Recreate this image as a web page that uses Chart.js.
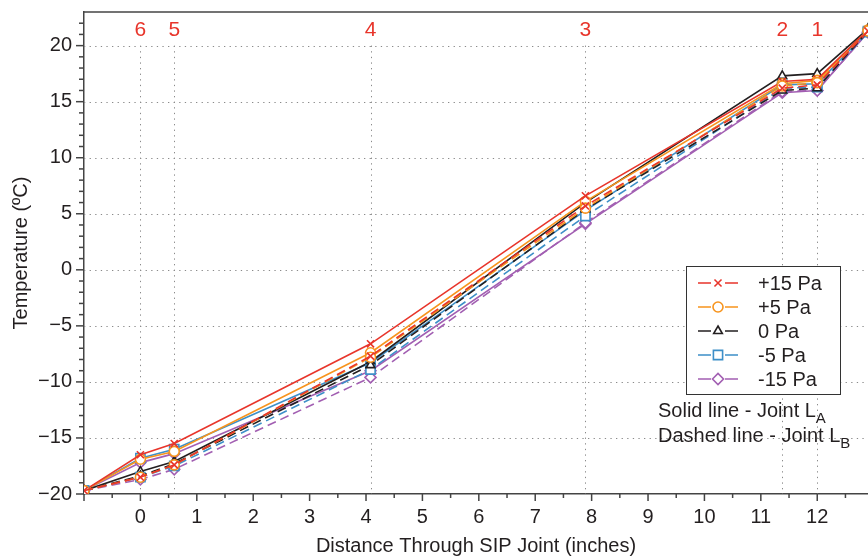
<!DOCTYPE html>
<html>
<head>
<meta charset="utf-8">
<script src="https://cdn.jsdelivr.net/npm/chart.js@4.4.1/dist/chart.umd.min.js"></script>
<style>
  html, body { margin: 0; padding: 0; background: #fff; }
  #wrap { width: 868px; height: 558px; }
</style>
</head>
<body>
<div id="wrap"><canvas id="tempChart" width="868" height="558"></canvas></div>
<script>
// 측정 위치 (inches) - 첫 점과 마지막 점은 표면
const xPos = [-1, 0, 0.6, 4.08, 7.89, 11.38, 12, 12.9];
const locX = [0, 0.6, 4.08, 7.89, 11.38, 12];
const locLabels = ['6', '5', '4', '3', '2', '1'];

const seriesNames = ['+15 Pa', '+5 Pa', '0 Pa', '-5 Pa', '-15 Pa'];
const seriesColors = ['#e8352b', '#f7941d', '#231f20', '#3d8fc8', '#a25fb2'];
const seriesMarkers = ['crossRot', 'circle', 'triangle', 'rect', 'rectRot'];
const markerRadius = [5, 5, 5, 6.5, 5.5];

// Joint LA (solid)
const jointA_p15 = [-19.7, -16.5, -15.5, -6.6, 6.6, 16.8, 17.0, 21.4];
const jointA_p5 = [-19.7, -16.9, -16.2, -7.4, 6.1, 16.6, 16.9, 21.4];
const jointA_0 = [-19.7, -18.0, -17.1, -8.2, 6.0, 17.3, 17.5, 21.5];
const jointA_m5 = [-19.7, -16.8, -16.0, -8.3, 5.3, 16.5, 16.6, 21.3];
const jointA_m15 = [-19.7, -17.2, -16.4, -9.0, 4.1, 15.8, 16.0, 21.2];

// Joint LB (dashed)
const jointB_p15 = [-19.7, -18.5, -17.4, -7.7, 5.7, 16.2, 16.5, 21.3];
const jointB_p5 = [-19.7, -18.5, -17.4, -7.8, 5.5, 16.4, 16.7, 21.3];
const jointB_0 = [-19.7, -18.4, -17.3, -8.5, 5.4, 16.0, 16.2, 21.3];
const jointB_m5 = [-19.7, -18.5, -17.5, -8.9, 4.8, 16.2, 16.3, 21.2];
const jointB_m15 = [-19.7, -18.7, -17.8, -9.6, 4.2, 15.9, 16.0, 21.2];

const jointA = [jointA_p15, jointA_p5, jointA_0, jointA_m5, jointA_m15];
const jointB = [jointB_p15, jointB_p5, jointB_0, jointB_m5, jointB_m15];

const FONT = '"Liberation Sans", Arial, Helvetica, sans-serif';
const INK = '#231f20';

function makeDataset(values, i, dashed) {
    return {
        label: seriesNames[i] + (dashed ? ' LB' : ' LA'),
        data: values.map((v, k) => ({ x: xPos[k], y: v })),
        borderColor: seriesColors[i],
        backgroundColor: '#fff',
        borderWidth: 1.6,
        borderDash: dashed ? [9, 5] : [],
        pointStyle: seriesMarkers[i],
        pointRadius: markerRadius[i],
        pointBorderWidth: 1.6,
        pointBackgroundColor: '#fff',
        pointBorderColor: seriesColors[i],
        tension: 0
    };
}

const datasets = [];
jointB.forEach((vals, i) => datasets.push(makeDataset(vals, i, true)));
jointA.forEach((vals, i) => datasets.push(makeDataset(vals, i, false)));

// 그리드, 눈금, 위치 번호, 범례 그리기
const decorPlugin = {
    id: 'decor',
    beforeDatasetsDraw(chart) {
        const { ctx, chartArea: a, scales: { x, y } } = chart;
        ctx.save();
        ctx.strokeStyle = '#8a8a8a';
        ctx.lineWidth = 1;
        ctx.setLineDash([1.3, 4.3]);
        for (let v = -15; v <= 20; v += 5) {
            const py = Math.round(y.getPixelForValue(v)) + 0.5;
            ctx.beginPath();
            ctx.moveTo(a.left, py);
            ctx.lineTo(a.right, py);
            ctx.stroke();
        }
        locX.forEach(v => {
            const px = Math.round(x.getPixelForValue(v)) + 0.5;
            ctx.beginPath();
            ctx.moveTo(px, y.getPixelForValue(20));
            ctx.lineTo(px, a.bottom);
            ctx.stroke();
        });
        ctx.restore();
    },
    afterDraw(chart) {
        const { ctx, chartArea: a, scales: { x, y } } = chart;
        ctx.save();
        // 위쪽 테두리
        ctx.strokeStyle = '#444';
        ctx.lineWidth = 1.5;
        ctx.beginPath();
        ctx.moveTo(a.left, a.top);
        ctx.lineTo(a.right, a.top);
        ctx.stroke();

        // 눈금
        for (let v = -20; v <= 22; v++) {
            const py = y.getPixelForValue(v);
            const len = v % 5 === 0 ? 8 : 5;
            ctx.beginPath();
            ctx.moveTo(a.left - len, py);
            ctx.lineTo(a.left, py);
            ctx.stroke();
        }
        for (let v = -1; v <= 12.5; v += 0.5) {
            const px = x.getPixelForValue(v);
            const len = Number.isInteger(v) ? 7 : 4;
            ctx.beginPath();
            ctx.moveTo(px, a.bottom);
            ctx.lineTo(px, a.bottom + len);
            ctx.stroke();
        }

        // 위치 번호 (빨간색)
        ctx.fillStyle = '#e8352b';
        ctx.font = '21px ' + FONT;
        ctx.textAlign = 'center';
        ctx.textBaseline = 'middle';
        locX.forEach((v, i) => {
            ctx.fillText(locLabels[i], x.getPixelForValue(v), 30);
        });

        // 범례 박스
        const bx = 686, by = 266, bw = 154, bh = 128;
        ctx.fillStyle = '#fff';
        ctx.fillRect(bx, by, bw, bh);
        ctx.strokeStyle = '#333';
        ctx.lineWidth = 1;
        ctx.strokeRect(bx + 0.5, by + 0.5, bw, bh);
        seriesNames.forEach((name, i) => {
            const ry = by + 17 + i * 24;
            ctx.strokeStyle = seriesColors[i];
            ctx.lineWidth = 1.6;
            ctx.beginPath();
            ctx.moveTo(698, ry); ctx.lineTo(711, ry);
            ctx.moveTo(725, ry); ctx.lineTo(738, ry);
            ctx.stroke();
            ctx.fillStyle = '#fff';
            Chart.helpers.drawPoint(ctx, {
                pointStyle: seriesMarkers[i], radius: markerRadius[i], borderWidth: 1.6, rotation: 0
            }, 718, ry);
            ctx.fillStyle = INK;
            ctx.font = '20px ' + FONT;
            ctx.textAlign = 'left';
            ctx.textBaseline = 'middle';
            ctx.fillText(name, 758, ry + 1);
        });

        // 주석 (아래첨자 포함)
        const notes = [['Solid line - Joint L', 'A', 417], ['Dashed line - Joint L', 'B', 442]];
        ctx.fillStyle = INK;
        ctx.textAlign = 'left';
        ctx.textBaseline = 'alphabetic';
        notes.forEach(([txt, sub, ny]) => {
            ctx.font = '20px ' + FONT;
            ctx.fillText(txt, 658, ny);
            const w = ctx.measureText(txt).width;
            ctx.font = '15px ' + FONT;
            ctx.fillText(sub, 658 + w, ny + 6);
        });
        ctx.restore();
    }
};

const minus = s => String(s).replace('-', '\u2212');

new Chart(document.getElementById('tempChart'), {
    type: 'line',
    data: { datasets },
    options: {
        responsive: false,
        animation: false,
        layout: { autoPadding: false, padding: { top: 12, right: 0, left: 0, bottom: 0 } },
        plugins: {
            legend: { display: false },
            tooltip: { enabled: false }
        },
        scales: {
            x: {
                type: 'linear',
                min: -1,
                max: 12.9,
                afterFit: s => { s.height = 64; s.paddingLeft = 0; s.paddingRight = 0; },
                grid: { drawOnChartArea: false, tickLength: 7, tickColor: 'transparent' },
                border: { color: '#444', width: 1.5 },
                ticks: {
                    stepSize: 0.5,
                    autoSkip: false,
                    includeBounds: false,
                    maxRotation: 0,
                    padding: 4,
                    color: INK,
                    font: { family: FONT, size: 20 },
                    callback: v => (Number.isInteger(v) && v >= 0) ? String(v) : ''
                },
                title: {
                    display: true,
                    text: 'Distance Through SIP Joint (inches)',
                    color: INK,
                    font: { family: FONT, size: 20 },
                    padding: { top: 0, bottom: 0 }
                }
            },
            y: {
                type: 'linear',
                min: -20,
                max: 23,
                afterFit: s => { s.width = 84; s.paddingTop = 0; s.paddingBottom = 0; },
                grid: { drawOnChartArea: false, tickLength: 8, tickColor: 'transparent' },
                border: { color: '#444', width: 1.5 },
                ticks: {
                    stepSize: 1,
                    autoSkip: false,
                    includeBounds: false,
                    padding: 4,
                    color: INK,
                    font: { family: FONT, size: 20 },
                    callback: v => v % 5 === 0 ? minus(v) : ''
                },
                title: {
                    display: true,
                    text: 'Temperature (ºC)',
                    color: INK,
                    font: { family: FONT, size: 20 },
                    padding: { top: 9, bottom: 0 }
                }
            }
        }
    },
    plugins: [decorPlugin]
});
</script>
</body>
</html>
